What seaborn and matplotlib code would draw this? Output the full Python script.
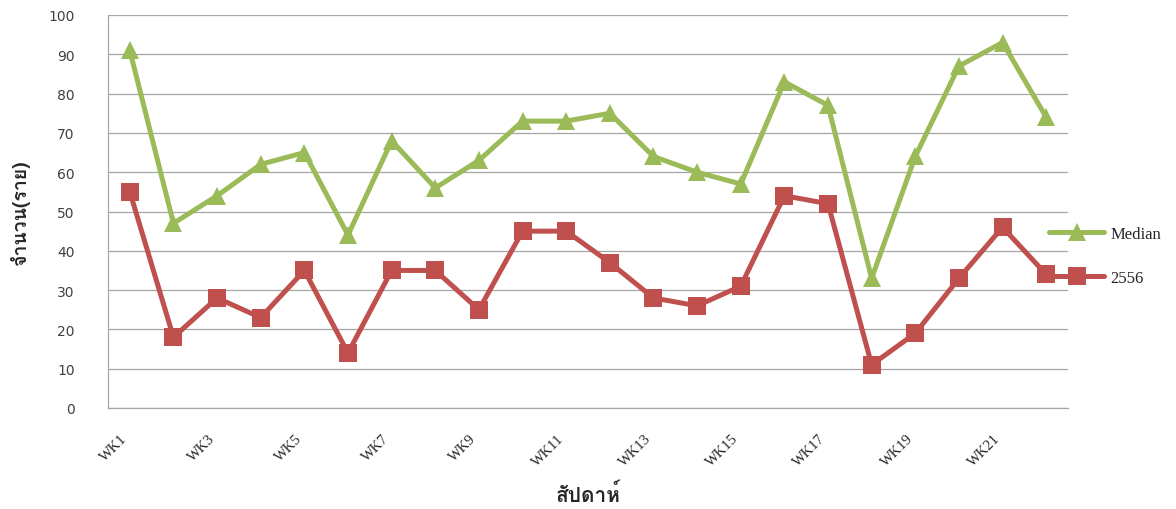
import matplotlib
matplotlib.use('Agg')
import matplotlib.pyplot as plt
from matplotlib import font_manager
from fontTools.ttLib import TTFont
import pandas as pd
import seaborn as sns

weeks = ['WK1', 'WK2', 'WK3', 'WK4', 'WK5', 'WK6', 'WK7', 'WK8', 'WK9', 'WK10', 'WK11',
         'WK12', 'WK13', 'WK14', 'WK15', 'WK16', 'WK17', 'WK18', 'WK19', 'WK20', 'WK21', 'WK22']
median = [91, 47, 54, 62, 65, 44, 68, 56, 63, 73, 73, 75, 64, 60, 57, 83, 77, 33, 64, 87, 93, 74]
y2556 = [55, 18, 28, 23, 35, 14, 35, 35, 25, 45, 45, 37, 28, 26, 31, 54, 52, 11, 19, 33, 46, 34]
series_names = ['Median', '2556']
colors = {'Median': '#9BBB59', '2556': '#C0504D'}


# หาฟอนต์ที่มีอักษรไทย
def thai_font():
    for f in font_manager.fontManager.ttflist:
        try:
            tt = TTFont(f.fname, fontNumber=0, lazy=True)
            if 0x0E08 in tt.getBestCmap():
                return f.name
        except Exception:
            pass
    return 'DejaVu Sans'


df = pd.DataFrame({
    'week': weeks * 2,
    'value': median + y2556,
    'series': ['Median'] * len(weeks) + ['2556'] * len(weeks),
})

sns.set_style('white')
thai = thai_font()
plt.rcParams['font.family'] = ['DejaVu Sans']

fig = plt.figure(figsize=(11.76, 5.10), dpi=100)
ax = fig.add_axes([108 / 1176, 1 - 409 / 510, 960 / 1176, 393 / 510])

sns.lineplot(data=df, x='week', y='value', hue='series', style='series',
             hue_order=series_names, style_order=series_names,
             markers={'Median': '^', '2556': 's'}, dashes=False,
             palette=colors, linewidth=3.6, markersize=13, markeredgewidth=0,
             ax=ax, legend=False, zorder=3)

ax.set_xlim(-0.5, len(weeks) - 0.5)
ax.set_ylim(0, 100)
ax.set_yticks(range(0, 101, 10))
ax.set_xticks(range(0, len(weeks), 2))
ax.set_xticklabels(weeks[::2], rotation=45, ha='right', va='top',
                   family='Liberation Serif', fontsize=10.5)
ax.tick_params(axis='x', length=0, pad=17)
ax.tick_params(axis='y', length=0, pad=24, labelsize=10, labelcolor='#404040')
ax.grid(axis='y', color='#A6A6A6', linewidth=0.9)
ax.set_axisbelow(True)
for side in ['top', 'right']:
    ax.spines[side].set_visible(False)
for side in ['left', 'bottom']:
    ax.spines[side].set_color('#A6A6A6')
    ax.spines[side].set_linewidth(0.9)
ax.set_xlabel('')
ax.set_ylabel('')

fig.text(20 / 1176, 1 - 212 / 510, 'จำนวน(ราย)', rotation=90, ha='center', va='center',
         family=[thai, 'DejaVu Sans'], fontsize=14, fontweight='bold')
fig.text(588 / 1176, 1 - 484 / 510, 'สัปดาห์', ha='center', va='top',
         family=[thai, 'DejaVu Sans'], fontsize=15, fontweight='bold')

handles = ax.get_lines()[:2]
leg = fig.legend(handles, series_names, loc='center left',
                 bbox_to_anchor=(1049 / 1176, 1 - 257 / 510), frameon=False,
                 handlelength=3.3, handletextpad=0.4, labelspacing=1.7,
                 borderpad=0, borderaxespad=0,
                 prop={'family': 'Liberation Serif', 'size': 12})

fig.savefig('out.png', dpi=100)
